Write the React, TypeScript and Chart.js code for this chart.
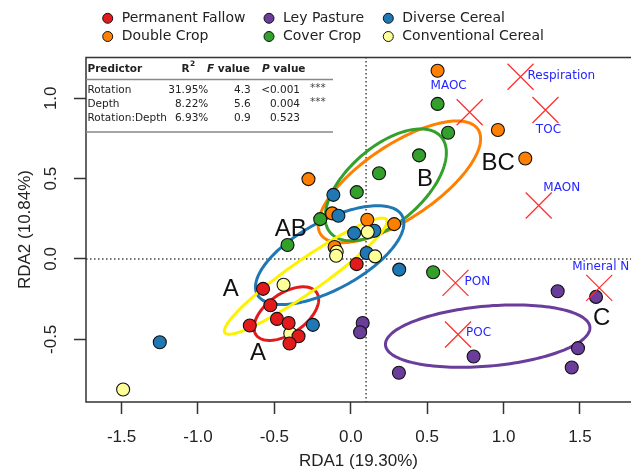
import React, { useEffect, useRef } from 'react';
import { Chart, registerables } from 'chart.js';

Chart.register(...registerables);

// ---------- data ----------
const categories = ['Permanent Fallow', 'Double Crop', 'Ley Pasture', 'Cover Crop', 'Diverse Cereal', 'Conventional Cereal'];
const pointColors = ['#E31A1C', '#FF7F00', '#6A3D9A', '#33A02C', '#1F78B4', '#FFFF99'];
const ellipseColors = ['#E31A1C', '#FF7F00', '#6A3D9A', '#33A02C', '#1F78B4', '#FFF200'];
const drawOrder = [0, 3, 5, 4, 2, 1]; // lower = on top

const fallowX = [-0.574, -0.526, -0.661, -0.483, -0.407, -0.342, -0.401, 0.038];
const fallowY = [-0.186, -0.288, -0.414, -0.373, -0.398, -0.481, -0.526, -0.032];
const doubleX = [-0.277, -0.122, 0.108, 0.284, -0.106, 0.568, 0.963, 1.142];
const doubleY = [0.497, 0.284, 0.244, 0.217, 0.075, 1.171, 0.803, 0.625];
const leyX = [0.078, 0.061, 0.315, 0.804, 1.354, 1.605, 1.487, 1.446];
const leyY = [-0.398, -0.456, -0.708, -0.607, -0.201, -0.236, -0.555, -0.675];
const coverX = [-0.414, -0.2, 0.039, 0.185, 0.447, 0.637, 0.568, 0.539];
const coverY = [0.087, 0.248, 0.416, 0.534, 0.645, 0.786, 0.965, -0.083];
const diverseX = [-1.25, -0.248, -0.114, -0.081, 0.022, 0.154, 0.104, 0.317];
const diverseY = [-0.518, -0.41, 0.399, 0.269, 0.161, 0.176, 0.037, -0.066];
const convX = [-1.49, -0.44, -0.396, -0.092, -0.096, 0.159, 0.111];
const convY = [-0.812, -0.16, -0.464, 0.045, 0.02, 0.016, 0.168];

const seriesX = [fallowX, doubleX, leyX, coverX, diverseX, convX];
const seriesY = [fallowY, doubleY, leyY, coverY, diverseY, convY];

// ellipses (data units): centre, major half-axis vector, minor half-axis vector
const ellipseCX = [-0.422, 0.318, 0.896, 0.229, -0.138, -0.295];
const ellipseCY = [-0.34, 0.48, -0.48, 0.4615, 0.024, -0.107];
const ellipseMajorDX = [0.198, 0.5145, 0.669, 0.362, 0.474, 0.529];
const ellipseMajorDY = [0.132, 0.327, 0.056, 0.299, 0.245, 0.352];
const ellipseMinorDX = [0.075, 0.134, 0.017, 0.162, 0.106, 0.06];
const ellipseMinorDY = [-0.102, -0.191, -0.186, -0.178, -0.186, -0.082];
const ellipseDrawOrder = [0, 1, 2, 3, 4, 5];

// species (response variables)
const speciesNames = ['Respiration', 'MAOC', 'TOC', 'MAON', 'PON', 'POC', 'Mineral N'];
const speciesX = [1.111, 0.778, 1.274, 1.23, 0.685, 0.702, 1.626];
const speciesY = [1.134, 0.913, 0.927, 0.333, -0.149, -0.47, -0.18];

// group letters
const groupLetters = ['A', 'A', 'AB', 'B', 'BC', 'C'];
const groupLetterX = [-0.786, -0.607, -0.393, 0.486, 0.965, 1.642];
const groupLetterY = [-0.189, -0.585, 0.185, 0.498, 0.596, -0.369];

// axes
const xTicks = [-1.5, -1.0, -0.5, 0.0, 0.5, 1.0, 1.5];
const yTicks = [-0.5, 0.0, 0.5, 1.0];
const xMin = -1.733;
const xMax = 1.834;
const yMin = -0.89;
const yMax = 1.257;
const zeroLineX = 0.1;
const zeroLineY = 0.0;
const xTitle = 'RDA1 (19.30%)';
const yTitle = 'RDA2 (10.84%)';

// PERMANOVA table
const tableHeader = ['Predictor', 'R', 'F', 'P'];
const tablePredictors = ['Rotation', 'Depth', 'Rotation:Depth'];
const tableR2 = ['31.95%', '8.22%', '6.93%'];
const tableF = ['4.3', '5.6', '0.9'];
const tableP = ['<0.001', '0.004', '0.523'];
const tableSig = ['***', '***', ''];

// ---------- layout / style ----------
const SANS = '"DejaVu Sans", Verdana, sans-serif';
const ARIAL = '"Liberation Sans", Arial, sans-serif';
const speciesLabelLayout = [
  { dx: 7, dy: -1, align: 'left' },
  { dx: -21, dy: -26, align: 'center' },
  { dx: 3, dy: 20, align: 'center' },
  { dx: 23, dy: -18, align: 'center' },
  { dx: 9, dy: -1, align: 'left' },
  { dx: 8, dy: -2, align: 'left' },
  { dx: -27, dy: -21, align: 'left' },
];
const legendColX = [107.7, 269, 388.3];
const legendRowY = [18.3, 36.5];

const decorPlugin = {
  id: 'decor',
  beforeDatasetsDraw(chart: any) {
    const ctx = chart.ctx;
    const xs = chart.scales.x;
    const ys = chart.scales.y;
    const area = chart.chartArea;
    ctx.save();
    // dotted zero lines
    ctx.strokeStyle = '#444';
    ctx.lineWidth = 1.5;
    ctx.setLineDash([1.5, 2.5]);
    const zx = xs.getPixelForValue(zeroLineX);
    const zy = ys.getPixelForValue(zeroLineY);
    ctx.beginPath();
    ctx.moveTo(zx, area.top);
    ctx.lineTo(zx, area.bottom);
    ctx.moveTo(area.left, zy);
    ctx.lineTo(area.right, zy);
    ctx.stroke();
    ctx.setLineDash([]);
    // ellipses
    for (const i of ellipseDrawOrder) {
      ctx.beginPath();
      for (let k = 0; k <= 160; k++) {
        const t = (k / 160) * Math.PI * 2;
        const vx = ellipseCX[i] + ellipseMajorDX[i] * Math.cos(t) + ellipseMinorDX[i] * Math.sin(t);
        const vy = ellipseCY[i] + ellipseMajorDY[i] * Math.cos(t) + ellipseMinorDY[i] * Math.sin(t);
        const px = xs.getPixelForValue(vx);
        const py = ys.getPixelForValue(vy);
        if (k === 0) ctx.moveTo(px, py);
        else ctx.lineTo(px, py);
      }
      ctx.closePath();
      ctx.strokeStyle = ellipseColors[i];
      ctx.lineWidth = 3;
      ctx.stroke();
    }
    ctx.restore();
  },
  afterDatasetsDraw(chart: any) {
    const ctx = chart.ctx;
    const xs = chart.scales.x;
    const ys = chart.scales.y;
    ctx.save();
    // species crosses + labels
    for (let i = 0; i < speciesNames.length; i++) {
      const px = xs.getPixelForValue(speciesX[i]);
      const py = ys.getPixelForValue(speciesY[i]);
      ctx.strokeStyle = '#FF2A2A';
      ctx.lineWidth = 1.2;
      ctx.beginPath();
      ctx.moveTo(px - 13, py - 13);
      ctx.lineTo(px + 13, py + 13);
      ctx.moveTo(px + 13, py - 13);
      ctx.lineTo(px - 13, py + 13);
      ctx.stroke();
      const lay = speciesLabelLayout[i];
      ctx.fillStyle = '#2424FF';
      ctx.font = `12px ${SANS}`;
      ctx.textAlign = lay.align;
      ctx.textBaseline = 'middle';
      ctx.fillText(speciesNames[i], px + lay.dx, py + lay.dy);
    }
    // group letters
    ctx.fillStyle = '#111';
    ctx.font = `24px ${ARIAL}`;
    ctx.textAlign = 'center';
    ctx.textBaseline = 'middle';
    for (let i = 0; i < groupLetters.length; i++) {
      ctx.fillText(groupLetters[i], xs.getPixelForValue(groupLetterX[i]), ys.getPixelForValue(groupLetterY[i]));
    }
    ctx.restore();
  },
  afterDraw(chart: any) {
    const ctx = chart.ctx;
    const ys = chart.scales.y;
    const area = chart.chartArea;
    ctx.save();
    // frame
    ctx.strokeStyle = '#333';
    ctx.lineWidth = 1.5;
    ctx.beginPath();
    ctx.moveTo(area.right + 2, area.top + 0.5);
    ctx.lineTo(area.left, area.top + 0.5);
    ctx.lineTo(area.left, area.bottom);
    ctx.lineTo(area.right + 2, area.bottom);
    ctx.stroke();
    // y tick labels (rotated)
    ctx.fillStyle = '#222';
    ctx.font = `17px ${ARIAL}`;
    ctx.textAlign = 'center';
    ctx.textBaseline = 'middle';
    for (const t of ys.ticks) {
      const py = ys.getPixelForValue(t.value);
      ctx.save();
      ctx.translate(51.7, py);
      ctx.rotate(-Math.PI / 2);
      ctx.fillText(Number(t.value).toFixed(1), 0, 0);
      ctx.restore();
    }
    // legend
    chart.data.datasets.forEach((ds: any, i: number) => {
      const cx = legendColX[Math.floor(i / 2)];
      const cy = legendRowY[i % 2];
      ctx.beginPath();
      ctx.arc(cx, cy, 5, 0, Math.PI * 2);
      ctx.fillStyle = ds.backgroundColor;
      ctx.fill();
      ctx.strokeStyle = '#111';
      ctx.lineWidth = 1;
      ctx.stroke();
      ctx.fillStyle = '#222';
      ctx.font = `14px ${SANS}`;
      ctx.textAlign = 'left';
      ctx.textBaseline = 'middle';
      ctx.fillText(ds.label, cx + 14, cy);
    });
    // table
    const left = area.left;
    const tRight = 333;
    ctx.fillStyle = '#222';
    ctx.textBaseline = 'middle';
    const hy = 69;
    ctx.font = `bold 10.5px ${SANS}`;
    ctx.textAlign = 'left';
    ctx.fillText(tableHeader[0], 87.5, hy);
    ctx.fillText(tableHeader[1], 181.5, hy);
    ctx.font = `bold 7.5px ${SANS}`;
    ctx.fillText('2', 190, hy - 5);
    ctx.font = `italic bold 10.5px ${SANS}`;
    ctx.fillText(tableHeader[2], 207, hy);
    let w = ctx.measureText(tableHeader[2]).width;
    ctx.font = `bold 10.5px ${SANS}`;
    ctx.fillText(' value', 207 + w, hy);
    ctx.font = `italic bold 10.5px ${SANS}`;
    ctx.fillText(tableHeader[3], 262, hy);
    w = ctx.measureText(tableHeader[3]).width;
    ctx.font = `bold 10.5px ${SANS}`;
    ctx.fillText(' value', 262 + w, hy);
    const rowY = [90, 104.3, 118.3];
    ctx.font = `10.5px ${SANS}`;
    for (let r = 0; r < tablePredictors.length; r++) {
      ctx.textAlign = 'left';
      ctx.fillText(tablePredictors[r], 87.5, rowY[r]);
      ctx.textAlign = 'right';
      ctx.fillText(tableR2[r], 208.3, rowY[r]);
      ctx.fillText(tableF[r], 250.7, rowY[r]);
      ctx.fillText(tableP[r], 300, rowY[r]);
      ctx.textAlign = 'left';
      ctx.fillStyle = '#444';
      ctx.fillText(tableSig[r], 310, rowY[r] - 2);
      ctx.fillStyle = '#222';
    }
    ctx.strokeStyle = '#888';
    ctx.lineWidth = 1.5;
    ctx.beginPath();
    ctx.moveTo(left, 79.5);
    ctx.lineTo(tRight, 79.5);
    ctx.moveTo(left, 132);
    ctx.lineTo(tRight, 132);
    ctx.stroke();
    ctx.restore();
  },
};

export default function App() {
  const canvasRef = useRef<HTMLCanvasElement | null>(null);

  useEffect(() => {
    const canvas = canvasRef.current;
    if (!canvas) return;
    const datasets = categories.map((label, i) => ({
      label,
      data: seriesX[i].map((x, k) => ({ x, y: seriesY[i][k] })),
      backgroundColor: pointColors[i],
      borderColor: '#111',
      borderWidth: 1.1,
      pointRadius: 6.5,
      pointHoverRadius: 6.5,
      order: drawOrder[i],
    }));
    const chart = new Chart(canvas, {
      type: 'scatter',
      data: { datasets },
      options: {
        animation: false,
        responsive: false,
        devicePixelRatio: 1,
        layout: { autoPadding: false, padding: { top: 57, left: 0, right: 0, bottom: 0 } },
        plugins: { legend: { display: false }, tooltip: { enabled: false } },
        events: [],
        scales: {
          x: {
            type: 'linear',
            min: xMin,
            max: xMax,
            afterBuildTicks: (s: any) => {
              s.ticks = xTicks.map((v) => ({ value: v }));
            },
            afterFit: (s: any) => {
              s.height = 70;
              s.paddingLeft = 0;
              s.paddingRight = 0;
            },
            ticks: {
              autoSkip: false,
              maxRotation: 0,
              minRotation: 0,
              padding: 13,
              color: '#222',
              font: { family: ARIAL, size: 17 },
              callback: (v: any) => Number(v).toFixed(1),
            },
            grid: { display: true, drawOnChartArea: false, drawTicks: true, tickLength: 12, tickColor: '#333', tickWidth: 1.5 },
            border: { display: false },
            title: { display: true, text: xTitle, color: '#222', font: { family: ARIAL, size: 17 }, padding: { top: 0, bottom: 0 } },
          },
          y: {
            type: 'linear',
            min: yMin,
            max: yMax,
            afterBuildTicks: (s: any) => {
              s.ticks = yTicks.map((v) => ({ value: v }));
            },
            afterFit: (s: any) => {
              s.width = 86;
              s.paddingTop = 0;
              s.paddingBottom = 0;
            },
            ticks: { display: false },
            grid: { display: true, drawOnChartArea: false, drawTicks: true, tickLength: 12, tickColor: '#333', tickWidth: 1.5 },
            border: { display: false },
            title: { display: true, text: yTitle, color: '#222', font: { family: ARIAL, size: 17 }, padding: { top: 15, bottom: 0 } },
          },
        },
      },
      plugins: [decorPlugin],
    } as any);
    return () => chart.destroy();
  }, []);

  return (
    <div style={{ position: 'fixed', left: 0, top: 0, width: 631, height: 472, background: '#fff' }}>
      <canvas ref={canvasRef} width={631} height={472} style={{ display: 'block' }} />
    </div>
  );
}
